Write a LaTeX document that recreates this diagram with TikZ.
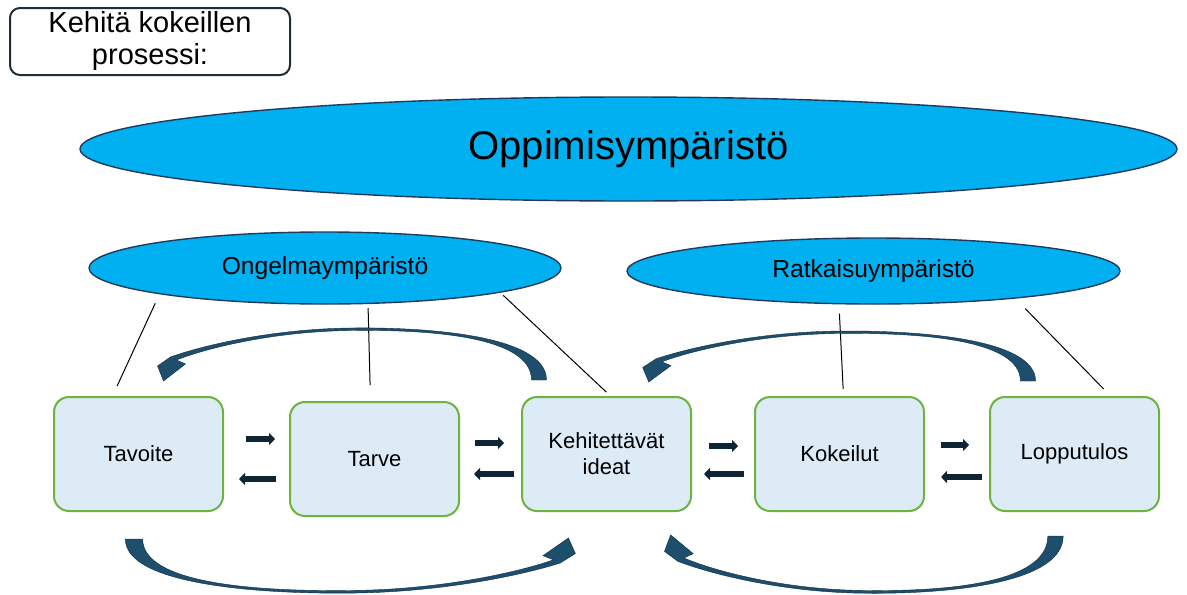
\documentclass[tikz,border=0pt]{standalone}
\usepackage{fontspec}
\setmainfont{Liberation Sans}
\usetikzlibrary{shapes.geometric,arrows.meta}
\definecolor{skyfill}{HTML}{00B0F0}
\definecolor{skyedge}{HTML}{1F3A5F}
\definecolor{boxfill}{HTML}{DDEBF7}
\definecolor{boxedge}{HTML}{6DB33F}
\definecolor{curvefill}{HTML}{1D4E6C}
\definecolor{curveedge}{HTML}{0E2E44}
\definecolor{navy}{HTML}{0D2535}
\definecolor{titleedge}{HTML}{1E2B38}
\tikzset{
  env/.style={ellipse,draw=skyedge,line width=0.7pt,fill=skyfill,inner sep=0pt},
  stage/.style={rectangle,rounded corners=7.5pt,draw=boxedge,line width=1pt,fill=boxfill,
    minimum width=84.5pt,minimum height=57pt,inner sep=0pt,align=center,
    font=\fontsize{11}{13}\selectfont},
  titlebox/.style={rectangle,rounded corners=5pt,draw=titleedge,line width=1pt,fill=white,
    minimum width=140pt,minimum height=33.5pt,inner sep=0pt,align=center,
    font=\fontsize{14.5}{16}\selectfont},
  fwd/.style={-{Triangle[length=3pt,width=6pt]},navy,line width=2.6pt},
  link/.style={black,line width=0.5pt},
  bigcurve/.pic={
    \fill[curvefill,draw=curveedge,line width=0.2pt]
      (7.5,0) .. controls (7.5,-46) and (-118.5,-53) .. (-188.5,-52)
      .. controls (-268.5,-51) and (-338,-34) .. (-368.5,-23)
      -- (-381.5,-14) -- (-375.5,1) -- (-353.5,-16) -- (-362.5,-20)
      .. controls (-335,-31) and (-268,-48.5) .. (-188.5,-49.5)
      .. controls (-110,-50.5) and (-7.5,-44) .. (-7.5,0) -- cycle;
  }
}
\begin{document}
\begin{tikzpicture}[x=0.5pt,y=-0.5pt]
	\useasboundingbox (0,0) rectangle (1187,594);
	% title
	\node[titlebox] (title) at (150,41.5) {Kehitä kokeillen\\prosessi:};
	% environments
	\node[env,minimum width=548.5pt,minimum height=52pt,font=\fontsize{20}{24}\selectfont] (oppi) at (628.5,149) {Oppimisympäristö};
	\node[env,minimum width=236pt,minimum height=36pt,font=\fontsize{12.3}{15}\selectfont] (ongelma) at (325,268) {Ongelmaympäristö};
	\node[env,minimum width=246.5pt,minimum height=33pt,font=\fontsize{12.3}{15}\selectfont] (ratkaisu) at (873.5,271) {Ratkaisuympäristö};
	% stages
	\node[stage] (tavoite) at (138.5,454) {Tavoite};
	\node[stage] (tarve) at (374.5,459) {Tarve};
	\node[stage] (kehit) at (606.5,454) {Kehitettävät\\ideat};
	\node[stage] (kokeilut) at (839.5,454) {Kokeilut};
	\node[stage] (loppu) at (1074.5,454) {Lopputulos};
	% links to the environments
	\draw[link,shorten <=5pt,shorten >=5.5pt] (ongelma.189) -- ([xshift=-13pt]tavoite.north);
	\draw[link,shorten <=2pt,shorten >=8pt] (ongelma.320) -- ([xshift=-2pt]tarve.north);
	\draw[link,shorten <=2pt,shorten >=2.8pt] (ongelma.352.6) -- ([xshift=2pt]kehit.north);
	\draw[link,shorten <=4.6pt,shorten >=3.5pt] (ratkaisu.224.7) -- ([xshift=2pt]kokeilut.north);
	\draw[link,shorten <=7pt,shorten >=4.9pt] (ratkaisu.349.4) -- ([xshift=18pt]loppu.north);
	% small arrows
	\draw[fwd,shorten <=11pt,shorten >=7pt] ([yshift=7.5pt]tavoite.east) -- ([yshift=7.5pt]tavoite.east -| tarve.west);
	\draw[fwd,shorten <=6.5pt,shorten >=7.5pt] ([yshift=-12.5pt]tavoite.east -| tarve.west) -- ([yshift=-12.5pt]tavoite.east);
	\draw[fwd,shorten <=7.5pt,shorten >=8.5pt] ([yshift=5.5pt]kehit.west -| tarve.east) -- ([yshift=5.5pt]kehit.west);
	\draw[fwd,shorten <=3.5pt,shorten >=7pt] ([yshift=-10pt]kehit.west) -- ([yshift=-10pt]kehit.west -| tarve.east);
	\draw[fwd,shorten <=8.5pt,shorten >=8pt] ([yshift=4pt]kehit.east) -- ([yshift=4pt]kokeilut.west);
	\draw[fwd,shorten <=5pt,shorten >=6pt] ([yshift=-10pt]kokeilut.west) -- ([yshift=-10pt]kehit.east);
	\draw[fwd,shorten <=8pt,shorten >=10pt] ([yshift=4.5pt]kokeilut.east) -- ([yshift=4.5pt]loppu.west);
	\draw[fwd,shorten <=3.5pt,shorten >=8pt] ([yshift=-11.5pt]loppu.west) -- ([yshift=-11.5pt]kokeilut.east);
	% big curved arrows
	\pic at ([xshift=-33.75pt,yshift=8pt]kehit.north) {bigcurve};
	\pic[xscale=1.01,yscale=0.96] at ([xshift=-23.25pt,yshift=7.5pt]loppu.north) {bigcurve};
	\pic[xscale=-1.157,yscale=-1.04] at ([xshift=-2.25pt,yshift=-13.5pt]tavoite.south) {bigcurve};
	\pic[xscale=1.025,yscale=-1.1] at ([xshift=-9.5pt,yshift=-12pt]loppu.south) {bigcurve};
\end{tikzpicture}
\end{document}
